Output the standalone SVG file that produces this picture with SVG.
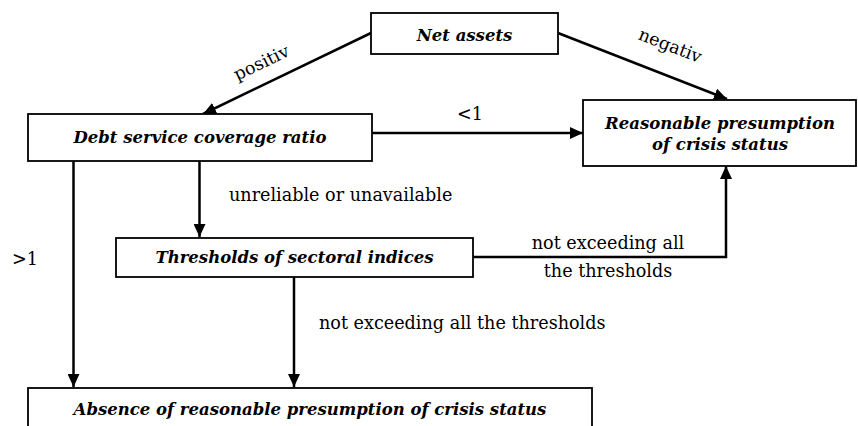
<svg xmlns="http://www.w3.org/2000/svg" width="858" height="426" viewBox="0 0 858 426">
<defs>
<marker id="arr" markerUnits="userSpaceOnUse" markerWidth="14" markerHeight="12" refX="13" refY="6" orient="auto">
<path d="M0,0 L13,6 L0,12 Z" fill="#000"/>
</marker>
<style>
.box{fill:#fff;stroke:#000;stroke-width:1.8}
.n{font-family:"DejaVu Serif",serif;font-size:16.5px;font-style:italic;font-weight:bold;text-anchor:middle;fill:#000}
.l{font-family:"DejaVu Serif",serif;font-size:17.6px;fill:#000}
.c{fill:none;stroke:#000;stroke-width:2.5}
</style>
</defs>
<rect width="858" height="426" fill="#fff"/>
<g id="connectors">
<line class="c" x1="371" y1="33" x2="203" y2="114" marker-end="url(#arr)"/>
<line class="c" x1="558" y1="33" x2="727" y2="99" marker-end="url(#arr)"/>
<line class="c" x1="372" y1="133" x2="583" y2="133" marker-end="url(#arr)"/>
<line class="c" x1="199.5" y1="161" x2="199.5" y2="237" marker-end="url(#arr)"/>
<line class="c" x1="73.5" y1="161" x2="73.5" y2="387" marker-end="url(#arr)"/>
<line class="c" x1="294" y1="277" x2="294" y2="387" marker-end="url(#arr)"/>
<polyline class="c" points="473,257 726,257 726,166" marker-end="url(#arr)"/>
<text class="l" transform="translate(264,68) rotate(-25.7)" text-anchor="middle">positiv</text>
<text class="l" transform="translate(668,51) rotate(21.3)" text-anchor="middle">negativ</text>
<text class="l" x="470" y="120" text-anchor="middle">&lt;1</text>
<text class="l" x="229" y="201">unreliable or unavailable</text>
<text class="l" x="12" y="265">&gt;1</text>
<text class="l" x="608" y="249" text-anchor="middle">not exceeding all</text>
<text class="l" x="608" y="277" text-anchor="middle">the thresholds</text>
<text class="l" x="319" y="329">not exceeding all the thresholds</text>
</g>
<g id="net-assets">
<rect class="box" x="371" y="13" width="187" height="41"/>
<text class="n" x="464.5" y="40.5">Net assets</text>
</g>
<g id="debt-service">
<rect class="box" x="28" y="114" width="344" height="47"/>
<text class="n" x="200" y="143">Debt service coverage ratio</text>
</g>
<g id="reasonable">
<rect class="box" x="583" y="100" width="273" height="66"/>
<text class="n" x="720" y="128.5">Reasonable presumption</text>
<text class="n" x="720" y="149.5">of crisis status</text>
</g>
<g id="thresholds">
<rect class="box" x="116" y="238" width="357" height="39"/>
<text class="n" x="294.5" y="263">Thresholds of sectoral indices</text>
</g>
<g id="absence">
<rect class="box" x="28" y="388" width="564" height="50"/>
<text class="n" x="310" y="415">Absence of reasonable presumption of crisis status</text>
</g>
</svg>
